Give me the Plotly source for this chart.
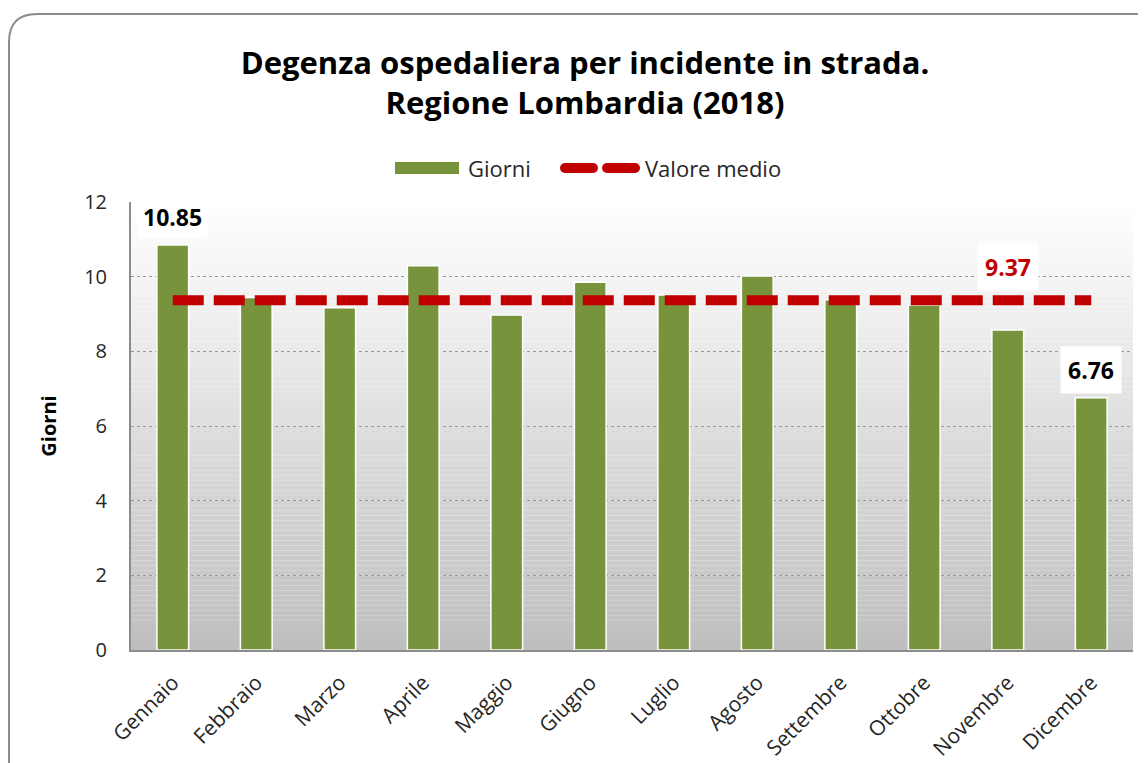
import plotly.graph_objects as go

months = ["Gennaio", "Febbraio", "Marzo", "Aprile", "Maggio", "Giugno",
          "Luglio", "Agosto", "Settembre", "Ottobre", "Novembre", "Dicembre"]
giorni = [10.85, 9.44, 9.17, 10.29, 8.97, 9.85, 9.51, 10.02, 9.38, 9.24, 8.57, 6.76]
valore_medio = [9.37] * 12

title_text = "Degenza ospedaliera per incidente in strada.<br>Regione Lombardia (2018)"
FONT = "Open Sans"
GREEN = "#77933C"
RED = "#C00000"
TXT = "#262626"

OFF = 8  # page body margin
W, H = 1146 - OFF, 763 - OFF
L, T = 131 - OFF, 202 - OFF
PR, PB = 1133 - OFF, 650 - OFF
R, B = W - PR, H - PB
PW, PH = PR - L, PB - T


def px_x(p):
    return (p - OFF - L) / PW


def px_y(p):
    return (PB - (p - OFF)) / PH


fig = go.Figure()
fig.add_trace(go.Bar(
    x=months, y=giorni, name="Giorni",
    marker=dict(color=GREEN, line=dict(color="white", width=1.5)),
    hoverinfo="skip", showlegend=False,
))
fig.add_trace(go.Scatter(
    x=months, y=valore_medio, name="Valore medio", mode="lines",
    line=dict(color=RED, width=10, dash="31px,10px"),
    hoverinfo="skip", showlegend=False,
))

shapes = []
# gradient plot background
n = 90
top = (255, 255, 255)
bot = (190, 190, 190)
for i in range(n):
    f = (i + 0.5) / n
    c = tuple(int(round(bot[k] + (top[k] - bot[k]) * f)) for k in range(3))
    shapes.append(dict(type="rect", xref="x domain", yref="y domain",
                       x0=0, x1=1, y0=i / n, y1=(i + 1) / n,
                       fillcolor="rgb(%d,%d,%d)" % c, line=dict(width=0),
                       layer="below"))
# rounded chart border
x0, x1 = px_x(9), px_x(1170)
y0, y1 = px_y(14), px_y(800)
rx = 28 / PW
ry = 28 / PH
path = (f"M {x0},{y1} L {x0},{y0 - ry} Q {x0},{y0} {x0 + rx},{y0} "
        f"L {x1},{y0}")
shapes.append(dict(type="path", xref="paper", yref="paper", path=path,
                   line=dict(color="#8c8c8c", width=2), layer="above"))

# legend (drawn)
shapes.append(dict(type="rect", xref="paper", yref="paper",
                   x0=px_x(395), x1=px_x(459), y0=px_y(174), y1=px_y(162),
                   fillcolor=GREEN, line=dict(width=0)))
for a, b in [(565, 593), (607, 635)]:
    shapes.append(dict(type="path", xref="paper", yref="paper",
                       path=f"M {px_x(a)},{px_y(168)} L {px_x(b)},{px_y(168)}",
                       line=dict(color=RED, width=10)))
    for cx in (a, b):
        shapes.append(dict(type="circle", xref="paper", yref="paper",
                           x0=px_x(cx - 5), x1=px_x(cx + 5),
                           y0=px_y(173), y1=px_y(163),
                           fillcolor=RED, line=dict(width=0)))

annotations = [
    dict(xref="paper", yref="paper", x=px_x(466), y=px_y(168), text="Giorni",
         xanchor="left", yanchor="middle", showarrow=False,
         font=dict(family=FONT, size=22, color=TXT)),
    dict(xref="paper", yref="paper", x=px_x(643), y=px_y(168), text="Valore medio",
         xanchor="left", yanchor="middle", showarrow=False,
         font=dict(family=FONT, size=22, color=TXT)),
    dict(x="Gennaio", y=giorni[0], text="<b>10.85</b>", showarrow=False,
         yshift=28, font=dict(family=FONT, size=23, color="black"),
         bgcolor="white", borderpad=5),
    dict(x="Dicembre", y=giorni[11], text="<b>6.76</b>", showarrow=False,
         yshift=28, font=dict(family=FONT, size=23, color="black"),
         bgcolor="white", borderpad=7),
    dict(x="Novembre", y=valore_medio[10], text="<b>9.37</b>", showarrow=False,
         yshift=33, font=dict(family=FONT, size=23, color=RED),
         bgcolor="white", borderpad=7),
]

fig.update_layout(
    width=W, height=H,
    margin=dict(l=L, r=R, t=T, b=B, autoexpand=False),
    paper_bgcolor="white", plot_bgcolor="rgba(0,0,0,0)",
    font=dict(family=FONT, size=21, color=TXT),
    title=dict(text="<b>" + title_text + "</b>", x=(585 - OFF) / W,
               xanchor="center", xref="container",
               y=1 - (74 - OFF) / H, yanchor="middle", yref="container",
               font=dict(family=FONT, size=31, color="black")),
    bargap=0.62,
    showlegend=False,
    shapes=shapes,
    annotations=annotations,
    xaxis=dict(showgrid=False, showline=True, linecolor="#8c8c8c", linewidth=2,
               tickangle=-45, tickfont=dict(family=FONT, size=21, color=TXT),
               ticks="", ticklabelstandoff=10, fixedrange=True,
               automargin=False),
    yaxis=dict(range=[0, 12], dtick=2, showgrid=True, gridcolor="#999999",
               griddash="dot", gridwidth=1.3, zeroline=False,
               showline=True, linecolor="#8c8c8c", linewidth=2,
               tickfont=dict(family=FONT, size=20, color=TXT),
               ticklabelstandoff=18,
               title=dict(text="<b>Giorni</b>", standoff=22,
                          font=dict(family=FONT, size=20, color="black")),
               fixedrange=True, automargin=False),
)

fig.write_html("out.html")
